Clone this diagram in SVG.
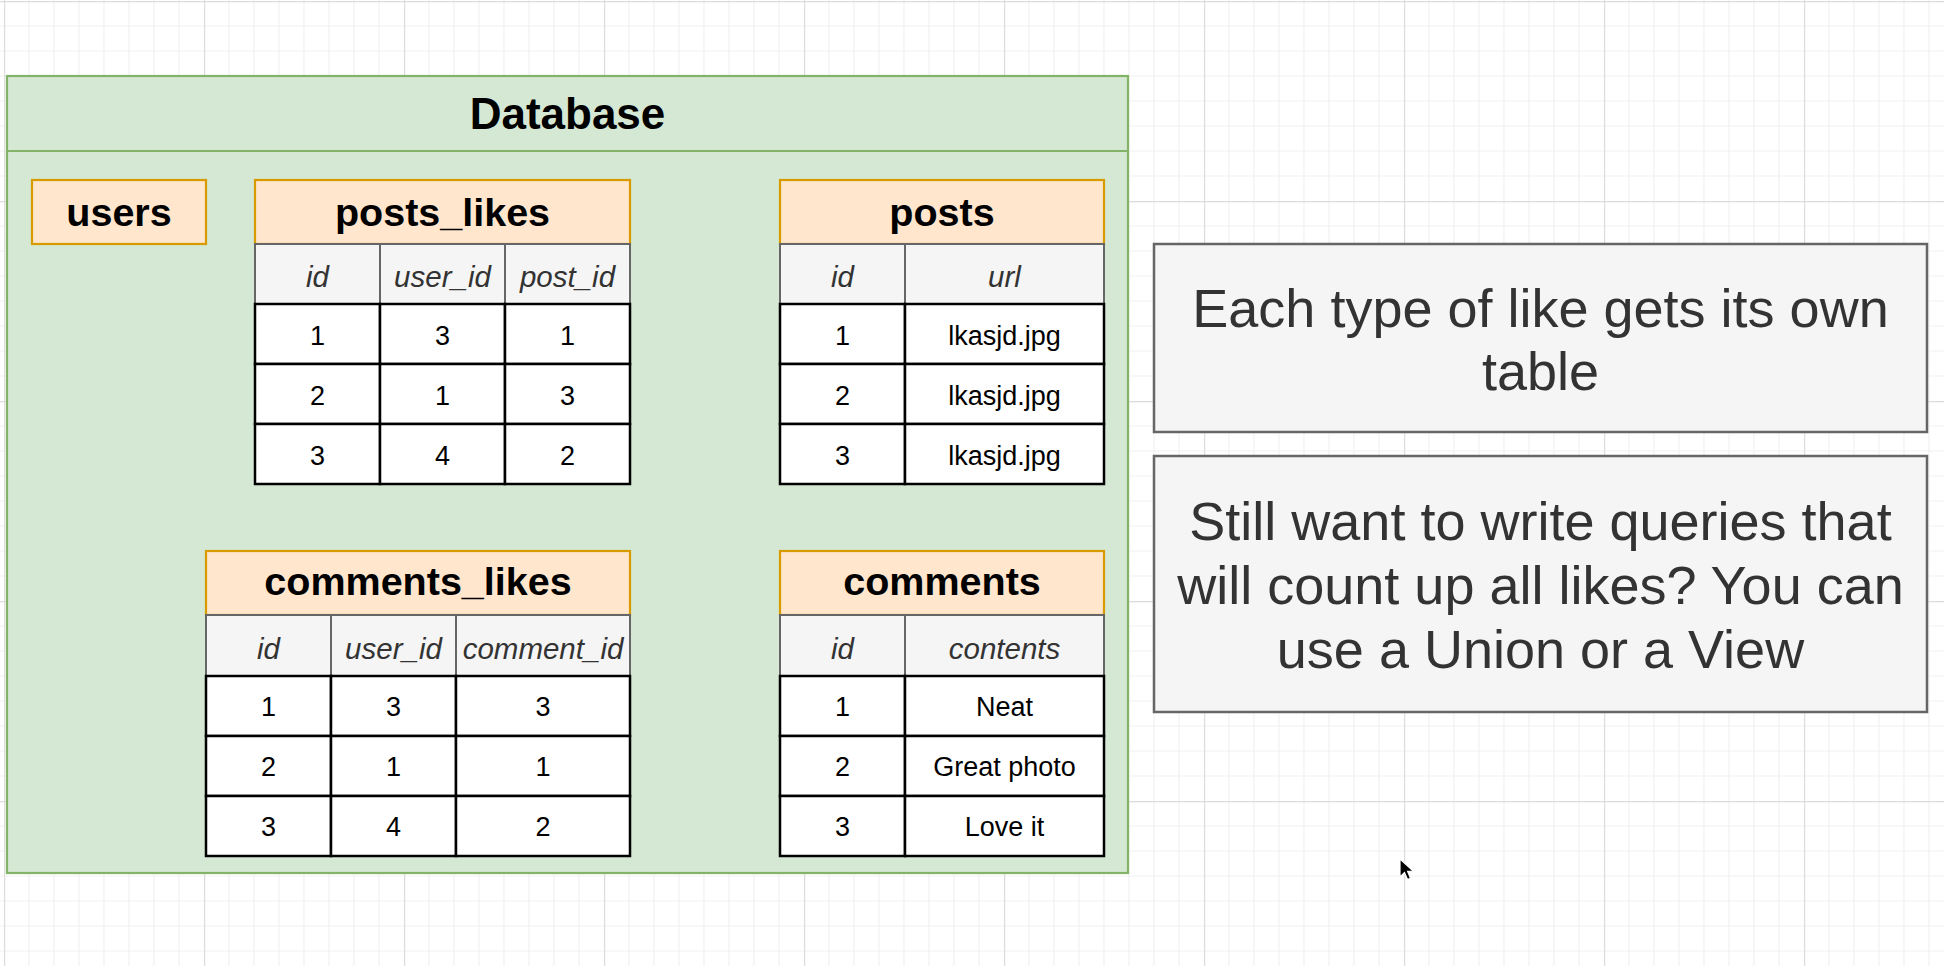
<svg xmlns="http://www.w3.org/2000/svg" width="1944" height="966" viewBox="0 0 1944 966">
<defs>
<pattern id="grid" patternUnits="userSpaceOnUse" x="4" y="1" width="200" height="200">
<path d="M25 0V200M50 0V200M75 0V200M100 0V200M125 0V200M150 0V200M175 0V200M0 25H200M0 50H200M0 75H200M0 100H200M0 125H200M0 150H200M0 175H200" stroke="#f1f1f1" stroke-width="1.2" fill="none"/>
<path d="M0.5 0V200M0 0.5H200" stroke="#dcdcdc" stroke-width="1.4" fill="none"/>
</pattern>
<style>
.db{fill:#d5e8d4;stroke:#82b366;stroke-width:2.2}
.tt{fill:#ffe6cc;stroke:#d79b00;stroke-width:2.2}
.ch{fill:#f5f5f5;stroke:#666666;stroke-width:2}
.cell{fill:#ffffff;stroke:#000000;stroke-width:2.5}
.note{fill:#f5f5f5;stroke:#666666;stroke-width:2.5}
text{font-family:"Liberation Sans",Arial,Helvetica,sans-serif;text-anchor:middle}
.title{font-size:39.5px;font-weight:bold;fill:#000}
.dbt{font-size:44px;font-weight:bold;fill:#000}
.hd{font-size:29.5px;font-style:italic;fill:#333}
.dt{font-size:27px;fill:#000}
.nt{font-size:54px;fill:#333}
</style>
</defs>
<rect x="0" y="0" width="1944" height="966" fill="#ffffff"/>
<rect x="0" y="0" width="1944" height="966" fill="url(#grid)"/>

<g id="database">
<rect class="db" x="7" y="76" width="1121" height="797"/>
<line x1="7" y1="151" x2="1128" y2="151" stroke="#82b366" stroke-width="2.2"/>
<text class="dbt" x="567.5" y="129">Database</text>
</g>

<g id="users">
<rect class="tt" x="32" y="180" width="174" height="64"/>
<text class="title" x="119" y="226">users</text>
</g>

<g id="posts_likes">
<rect class="tt" x="255" y="180" width="375" height="64"/>
<text class="title" x="442.5" y="226">posts_likes</text>
<rect class="ch" x="255" y="244" width="125" height="60"/>
<rect class="ch" x="380" y="244" width="125" height="60"/>
<rect class="ch" x="505" y="244" width="125" height="60"/>
<text class="hd" x="317.5" y="287">id</text>
<text class="hd" x="442.5" y="287">user_id</text>
<text class="hd" x="567.5" y="287">post_id</text>
<rect class="cell" x="255" y="304" width="125" height="60"/>
<rect class="cell" x="380" y="304" width="125" height="60"/>
<rect class="cell" x="505" y="304" width="125" height="60"/>
<rect class="cell" x="255" y="364" width="125" height="60"/>
<rect class="cell" x="380" y="364" width="125" height="60"/>
<rect class="cell" x="505" y="364" width="125" height="60"/>
<rect class="cell" x="255" y="424" width="125" height="60"/>
<rect class="cell" x="380" y="424" width="125" height="60"/>
<rect class="cell" x="505" y="424" width="125" height="60"/>
<text class="dt" x="317.5" y="345">1</text><text class="dt" x="442.5" y="345">3</text><text class="dt" x="567.5" y="345">1</text>
<text class="dt" x="317.5" y="405">2</text><text class="dt" x="442.5" y="405">1</text><text class="dt" x="567.5" y="405">3</text>
<text class="dt" x="317.5" y="465">3</text><text class="dt" x="442.5" y="465">4</text><text class="dt" x="567.5" y="465">2</text>
</g>

<g id="posts">
<rect class="tt" x="780" y="180" width="324" height="64"/>
<text class="title" x="942" y="226">posts</text>
<rect class="ch" x="780" y="244" width="125" height="60"/>
<rect class="ch" x="905" y="244" width="199" height="60"/>
<text class="hd" x="842.5" y="287">id</text>
<text class="hd" x="1004.5" y="287">url</text>
<rect class="cell" x="780" y="304" width="125" height="60"/>
<rect class="cell" x="905" y="304" width="199" height="60"/>
<rect class="cell" x="780" y="364" width="125" height="60"/>
<rect class="cell" x="905" y="364" width="199" height="60"/>
<rect class="cell" x="780" y="424" width="125" height="60"/>
<rect class="cell" x="905" y="424" width="199" height="60"/>
<text class="dt" x="842.5" y="345">1</text><text class="dt" x="1004.5" y="345">lkasjd.jpg</text>
<text class="dt" x="842.5" y="405">2</text><text class="dt" x="1004.5" y="405">lkasjd.jpg</text>
<text class="dt" x="842.5" y="465">3</text><text class="dt" x="1004.5" y="465">lkasjd.jpg</text>
</g>

<g id="comments_likes">
<rect class="tt" x="206" y="551" width="424" height="64"/>
<text class="title" x="418" y="595">comments_likes</text>
<rect class="ch" x="206" y="615" width="125" height="61"/>
<rect class="ch" x="331" y="615" width="125" height="61"/>
<rect class="ch" x="456" y="615" width="174" height="61"/>
<text class="hd" x="268.5" y="659">id</text>
<text class="hd" x="393.5" y="659">user_id</text>
<text class="hd" x="543" y="659">comment_id</text>
<rect class="cell" x="206" y="676" width="125" height="60"/>
<rect class="cell" x="331" y="676" width="125" height="60"/>
<rect class="cell" x="456" y="676" width="174" height="60"/>
<rect class="cell" x="206" y="736" width="125" height="60"/>
<rect class="cell" x="331" y="736" width="125" height="60"/>
<rect class="cell" x="456" y="736" width="174" height="60"/>
<rect class="cell" x="206" y="796" width="125" height="60"/>
<rect class="cell" x="331" y="796" width="125" height="60"/>
<rect class="cell" x="456" y="796" width="174" height="60"/>
<text class="dt" x="268.5" y="716">1</text><text class="dt" x="393.5" y="716">3</text><text class="dt" x="543" y="716">3</text>
<text class="dt" x="268.5" y="776">2</text><text class="dt" x="393.5" y="776">1</text><text class="dt" x="543" y="776">1</text>
<text class="dt" x="268.5" y="836">3</text><text class="dt" x="393.5" y="836">4</text><text class="dt" x="543" y="836">2</text>
</g>

<g id="comments">
<rect class="tt" x="780" y="551" width="324" height="64"/>
<text class="title" x="942" y="595">comments</text>
<rect class="ch" x="780" y="615" width="125" height="61"/>
<rect class="ch" x="905" y="615" width="199" height="61"/>
<text class="hd" x="842.5" y="659">id</text>
<text class="hd" x="1004.5" y="659">contents</text>
<rect class="cell" x="780" y="676" width="125" height="60"/>
<rect class="cell" x="905" y="676" width="199" height="60"/>
<rect class="cell" x="780" y="736" width="125" height="60"/>
<rect class="cell" x="905" y="736" width="199" height="60"/>
<rect class="cell" x="780" y="796" width="125" height="60"/>
<rect class="cell" x="905" y="796" width="199" height="60"/>
<text class="dt" x="842.5" y="716">1</text><text class="dt" x="1004.5" y="716">Neat</text>
<text class="dt" x="842.5" y="776">2</text><text class="dt" x="1004.5" y="776">Great photo</text>
<text class="dt" x="842.5" y="836">3</text><text class="dt" x="1004.5" y="836">Love it</text>
</g>

<g id="note1">
<rect class="note" x="1154" y="244" width="773" height="188"/>
<text class="nt" x="1540.5" y="327">Each type of like gets its own</text>
<text class="nt" x="1540.5" y="390">table</text>
</g>

<g id="note2">
<rect class="note" x="1154" y="456" width="773" height="256"/>
<text class="nt" x="1540.5" y="540">Still want to write queries that</text>
<text class="nt" x="1540.5" y="604">will count up all likes? You can</text>
<text class="nt" x="1540.5" y="668">use a Union or a View</text>
</g>

<g id="connectors"></g>

<g id="cursor">
<path d="M1400 859L1400 877L1404.5 872.5L1407.5 879.5L1410.5 878.2L1407.6 871.4L1413.5 871.2Z" fill="#000" stroke="#fff" stroke-width="1.2"/>
</g>
</svg>
